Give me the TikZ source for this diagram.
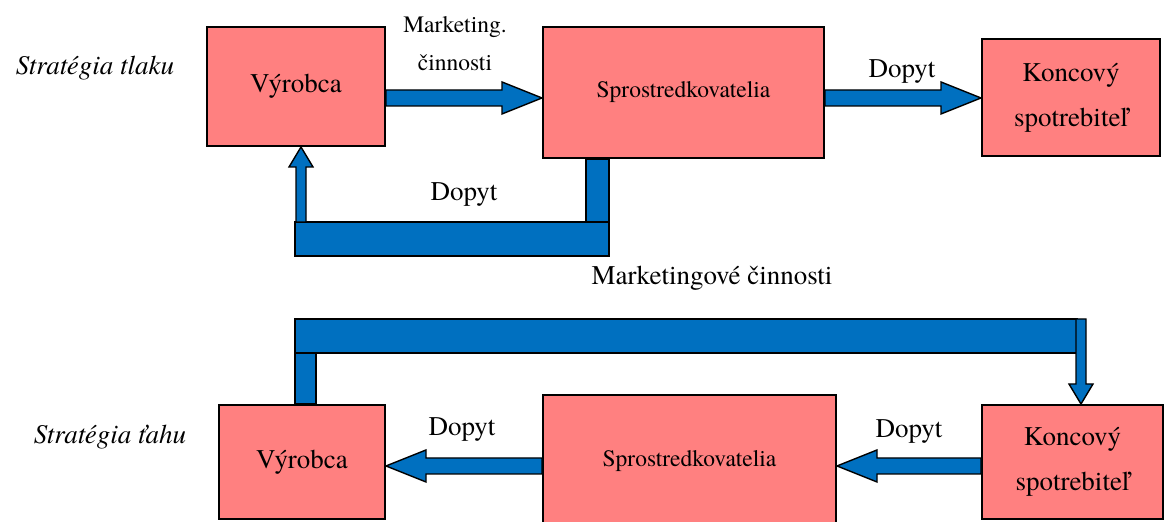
\documentclass[tikz,border=0pt]{standalone}
\usepackage{fontspec}
\setmainfont{texgyretermes}[Extension=.otf, UprightFont=*-regular, ItalicFont=*-italic, BoldFont=*-bold, BoldItalicFont=*-bolditalic]
\usepackage{tikz}
\usetikzlibrary{calc,positioning}
\definecolor{boxred}{RGB}{255,128,128}
\definecolor{flowblue}{RGB}{0,112,192}

% horizontal block arrow: tail, tip, level, direction (1 right, -1 left)
\newcommand{\harrow}[4]{%
  \draw[flow] ($(#1 |- #3)+(0,-8)$) -- ($(#2 |- #3)+({-40*#4},-8)$) -- ($(#2 |- #3)+({-40*#4},-16)$)
    -- (#2 |- #3) -- ($(#2 |- #3)+({-40*#4},16)$) -- ($(#2 |- #3)+({-40*#4},8)$) -- ($(#1 |- #3)+(0,8)$) -- cycle;}
% vertical block arrow: tail level, tip, direction (1 down, -1 up)
\newcommand{\varrow}[3]{%
  \draw[flow] ($(#2 |- #1)+(-5,0)$) -- ($(#2)+(-5,{-20*#3})$) -- ($(#2)+(-12,{-20*#3})$)
    -- (#2) -- ($(#2)+(12,{-20*#3})$) -- ($(#2)+(5,{-20*#3})$) -- ($(#2 |- #1)+(5,0)$) -- cycle;}

\begin{document}
\begin{tikzpicture}
	[x=0.5pt, y=-0.5pt, font=\fontsize{13.5}{16}\selectfont,
	% STYLES
	% The box style is used for the members of the chain
	box/.style={rectangle, draw, fill=boxred, line width=1pt, inner sep=0pt, align=center},
	% The flow style is used for the blue block arrows and bars
	flow/.style={draw, fill=flowblue, line width=0.7pt, line join=miter},
	% The strat style is used for the names of the strategies
	strat/.style={font=\fontsize{13.5}{16}\selectfont\itshape},
	small/.style={font=\fontsize{11.75}{19}\selectfont, align=center}]
	
	\clip (0,0) rectangle (1164,522);
	
	% push strategy
	\node [box, minimum width=89pt, minimum height=59.5pt] (Vyrobca) at (296,86.5) {Výrobca};
	\node [box, minimum width=140.5pt, minimum height=65.5pt, font=\fontsize{11.75}{14}\selectfont] (Spros) at (683.5,92.5) {Sprostredkovatelia};
	\node [box, minimum width=89pt, minimum height=58.5pt, font=\fontsize{13.5}{22.5}\selectfont] (Konc) at (1071,97.5) {Koncový\\spotrebiteľ};
	\node [strat] (Tlak) at (95,68) {Stratégia tlaku};
	\node [small] (MarkA) at (455,44) {Marketing.\\činnosti};
	\node (DopytA) at (902,72) {Dopyt};
	\node (DopytB) at (464,195) {Dopyt};
	
	\coordinate (LevelA) at (0,98);
	\harrow{Vyrobca.east}{Spros.west}{LevelA}{1}
	\harrow{Spros.east}{Konc.west}{LevelA}{1}
	% way back to the producer
	\coordinate (BarA1) at (295,222);
	\coordinate (BarA2) at (609,256);
	\coordinate (TipA) at ($(Vyrobca.south)+(5,0)$);
	\draw[flow] ($(Spros.south west)+(44,0)$) rectangle (BarA2 |- BarA1);
	\draw[flow] (BarA1) rectangle (BarA2);
	\varrow{BarA1}{TipA}{-1}
	
	\node (MarkB) at (712,278) {Marketingové činnosti};
	
	% pull strategy
	\node [box, minimum width=83pt, minimum height=57pt] (VyrobcaB) at (302,462) {Výrobca};
	\node [box, minimum width=146.5pt, minimum height=66pt, font=\fontsize{11.75}{14}\selectfont] (SprosB) at (689.5,461) {Sprostredkovatelia};
	\node [box, minimum width=90.5pt, minimum height=57pt, font=\fontsize{13.5}{22.5}\selectfont] (KoncB) at (1072.5,462) {Koncový\\spotrebiteľ};
	\node [strat] (Tah) at (110,437) {Stratégia ťahu};
	\node (DopytC) at (462,430) {Dopyt};
	\node (DopytD) at (909,432) {Dopyt};
	
	\coordinate (LevelB) at (0,466);
	\harrow{SprosB.west}{VyrobcaB.east}{LevelB}{-1}
	\harrow{KoncB.west}{SprosB.east}{LevelB}{-1}
	% marketing straight to the end consumer
	\coordinate (BarB1) at (295,319);
	\coordinate (BarB2) at (1077,353);
	\coordinate (TipB) at ($(KoncB.north west)+(100,0)$);
	\draw[flow] (BarB1) rectangle (BarB2);
	\draw[flow] (BarB1 |- BarB2) rectangle ($(VyrobcaB.north west)+(98,0)$);
	\varrow{BarB1}{TipB}{1}
	
\end{tikzpicture}
\end{document}
